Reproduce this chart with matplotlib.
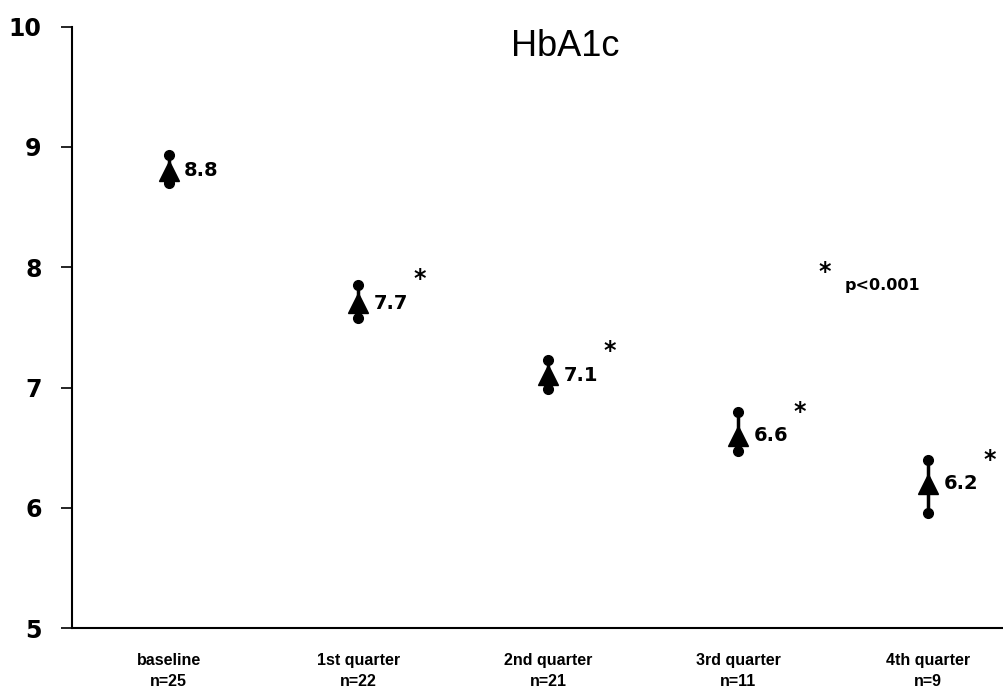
import matplotlib
matplotlib.use("Agg")
import matplotlib.pyplot as plt

categories = ["baseline\nn=25", "1st quarter\nn=22", "2nd quarter\nn=21", "3rd quarter\nn=11", "4th quarter\nn=9"]
means = [8.8, 7.7, 7.1, 6.6, 6.2]
upper = [8.93, 7.85, 7.23, 6.80, 6.40]
lower = [8.70, 7.58, 6.99, 6.47, 5.96]
labels = ["8.8", "7.7", "7.1", "6.6", "6.2"]
signif = [False, True, True, True, True]

fig = plt.figure(figsize=(10.04, 6.98), dpi=100)
ax = fig.add_axes([0.072, 0.1, 0.93, 0.862])
x = list(range(len(means)))

for i in x:
    ax.plot([i, i], [lower[i], upper[i]], color="black", lw=2.5, zorder=2)
    ax.plot([i, i], [lower[i], upper[i]], "o", color="black", ms=7, zorder=3)
ax.plot(x, means, "^", color="black", ms=15, zorder=4, linestyle="none")

for i in x:
    ax.text(i + 0.08, means[i], labels[i], fontsize=14, fontweight="bold",
            va="center", ha="left")
    if signif[i]:
        ax.text(i + 0.29, means[i] + 0.2, "*", fontsize=17, fontweight="bold",
                va="center", ha="left")

ax.text(3.42, 7.96, "*", fontsize=17, fontweight="bold", va="center", ha="left")
ax.text(3.56, 7.85, "p<0.001", fontsize=11.5, fontweight="bold", va="center",
        ha="left")
ax.text(2.09, 9.83, "HbA1c", fontsize=26, va="center", ha="center",
        family="Liberation Sans")

ax.set_xlim(-0.507, 4.41)
ax.set_ylim(5, 10)
ax.set_yticks([5, 6, 7, 8, 9, 10])
ax.set_yticklabels(["5", "6", "7", "8", "9", "10"], fontsize=17, fontweight="bold",
                   family="DejaVu Sans")
ax.set_xticks(x)
ax.set_xticklabels(categories, fontsize=11.5, fontweight="bold",
                   family="Liberation Sans", linespacing=1.5)
ax.tick_params(axis="x", length=0, pad=18)
ax.tick_params(axis="y", length=8, width=1.2, direction="out", pad=14)
for s in ["top", "right"]:
    ax.spines[s].set_visible(False)
ax.spines["left"].set_linewidth(1.5)
ax.spines["bottom"].set_linewidth(1.5)

fig.savefig("out.png", dpi=100)
